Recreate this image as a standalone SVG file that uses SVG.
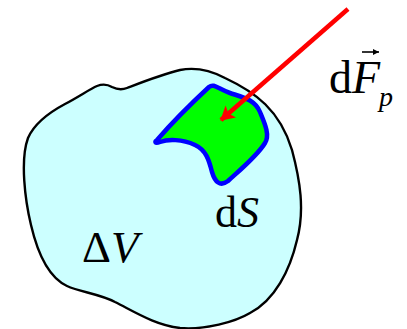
<svg xmlns="http://www.w3.org/2000/svg" width="407" height="329" viewBox="0 0 407 329">
<style>
.lbl{font-family:"Liberation Serif","Times New Roman",serif;fill:#000}
.it{font-style:italic}
</style>
<defs>
<marker id="redhead" viewBox="0 0 14 16" refX="13" refY="8" markerWidth="14" markerHeight="16" markerUnits="userSpaceOnUse" orient="auto">
<path d="M0,0 L14,8 L0,16 L3,8 Z" fill="#ff0000"/>
</marker>
<marker id="vechead" viewBox="0 0 6 6" refX="6" refY="3" markerWidth="6" markerHeight="6" markerUnits="userSpaceOnUse" orient="auto">
<path d="M0,0 L6,3 L0,6 Z" fill="#000"/>
</marker>
</defs>
<rect width="407" height="329" fill="#ffffff"/>
<g id="volume">
<path d="M97,86 C102,84 107,84 112,87 C116,89 122,90 127,88 C140,83 160,75 180,70 C195,67 210,70 225,78 C255,92 280,110 292,150 C300,180 305,210 297,240 C290,270 275,300 250,313 C235,322 205,330 180,328 C155,325 135,312 115,302 C100,294 80,292 67,286 C50,278 38,255 31,225 C25,200 20,160 28,138 C35,122 50,112 65,104 C80,96 90,89 97,86 Z" fill="#ccffff" stroke="#000" stroke-width="2.4"/>
</g>
<g id="surface">
<path d="M157,140 C170,125 195,100 209,87 C214,83 218,89 230,93 C245,98 255,100 260,112 C265,124 270,135 265,143 C258,155 240,170 228,181 C220,187 215,182 212,172 C209,160 206,150 195,145 C182,139 168,139 160,142 C155,144 154,142 157,140 Z" fill="#00ff00" stroke="#0000ff" stroke-width="4.5" stroke-linejoin="round"/>
</g>
<g id="connectors">
<line x1="348" y1="9" x2="221" y2="120" stroke="#ff0000" stroke-width="4.5" marker-end="url(#redhead)"/>
</g>
<g id="labels">
<text class="lbl" x="82" y="262" font-size="45">Δ<tspan class="it">V</tspan></text>
<text class="lbl" x="215" y="227" font-size="44">d<tspan class="it">S</tspan></text>
<text class="lbl" x="329" y="93" font-size="46">d<tspan class="it">F</tspan></text>
<text class="lbl it" x="379" y="106" font-size="28">p</text>
<line x1="362" y1="52" x2="379" y2="52" stroke="#000" stroke-width="1.6" marker-end="url(#vechead)"/>
</g>
</svg>
